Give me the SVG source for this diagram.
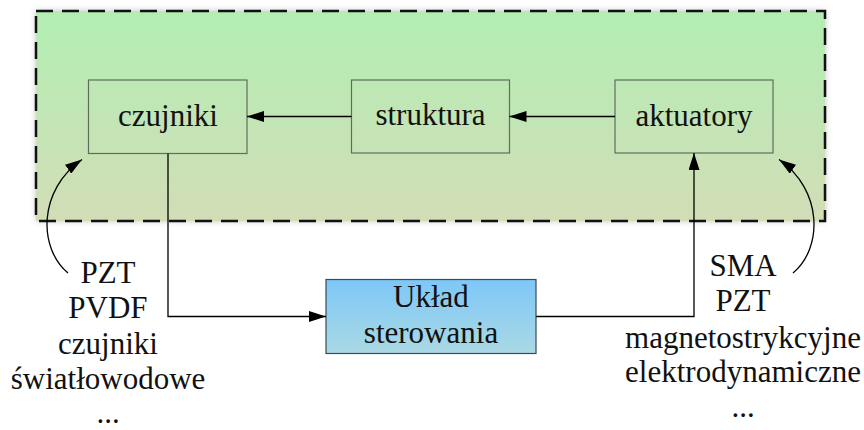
<svg xmlns="http://www.w3.org/2000/svg" width="864" height="430" viewBox="0 0 864 430">
<defs>
<linearGradient id="gGreen" x1="0" y1="0" x2="0" y2="1"><stop offset="0" stop-color="#b2eeb4"/><stop offset="1" stop-color="#d2ddb6"/></linearGradient>
<linearGradient id="gBlue" x1="0" y1="0" x2="0" y2="1"><stop offset="0" stop-color="#7dc7f8"/><stop offset="1" stop-color="#aad9e4"/></linearGradient>
<filter id="shadow" x="-5%" y="-10%" width="110%" height="120%"><feGaussianBlur stdDeviation="3"/></filter>
<marker id="arr" viewBox="0 0 17 11" refX="17" refY="5.5" markerWidth="17" markerHeight="11" markerUnits="userSpaceOnUse" orient="auto"><path d="M0,0 L17,5.5 L0,11 Z" fill="#000"/></marker>
<style>
.t{font-family:"Liberation Serif","DejaVu Serif",serif;font-size:31px;fill:#111;text-anchor:middle}
.box{fill:none;stroke:#5e6e5e;stroke-width:1.2}
.ln{fill:none;stroke:#000;stroke-width:1.3}
</style>
</defs>
<g id="system">
<rect x="36" y="11" width="789" height="210" fill="#999" filter="url(#shadow)" opacity="0.6"/>
<rect x="36" y="11" width="789" height="210" fill="url(#gGreen)"/>
<rect x="36" y="11" width="789" height="210" fill="none" stroke="#111" stroke-width="2.5" stroke-dasharray="17 9"/>
</g>
<g id="czujniki"><rect class="box" x="88.5" y="80" width="158.5" height="73.5"/><text class="t" x="168" y="126">czujniki</text></g>
<g id="struktura"><rect class="box" x="351.5" y="80" width="158" height="73"/><text class="t" x="430.5" y="125">struktura</text></g>
<g id="aktuatory"><rect class="box" x="615" y="80" width="158" height="73"/><text class="t" x="694" y="126">aktuatory</text></g>
<g id="uklad"><rect x="326" y="279.5" width="210" height="74" fill="url(#gBlue)" stroke="#3c4a55" stroke-width="1.2"/><text class="t" x="431" y="306.5">Układ</text><text class="t" x="431" y="342.5">sterowania</text></g>
<g id="sensors-list"><text class="t" x="108" y="283">PZT</text><text class="t" x="108" y="318">PVDF</text><text class="t" x="108" y="354">czujniki</text><text class="t" x="108" y="389">światłowodowe</text><text class="t" x="108" y="423">...</text></g>
<g id="actuators-list"><text class="t" x="743" y="276">SMA</text><text class="t" x="743" y="311">PZT</text><text class="t" x="743" y="348">magnetostrykcyjne</text><text class="t" x="743" y="382">elektrodynamiczne</text><text class="t" x="743" y="417">...</text></g>
<g id="connectors">
<line class="ln" x1="351.5" y1="116.5" x2="247" y2="116.5" marker-end="url(#arr)"/>
<line class="ln" x1="615" y1="116.5" x2="509.5" y2="116.5" marker-end="url(#arr)"/>
<polyline class="ln" points="168,153.5 168,316.5 326,316.5" marker-end="url(#arr)"/>
<polyline class="ln" points="536,316.5 694,316.5 694,153" marker-end="url(#arr)"/>
<path class="ln" d="M68,273 C38,248 38,190 82,159.5" marker-end="url(#arr)"/>
<path class="ln" d="M793,273 C823,248 823,190 779,159.5" marker-end="url(#arr)"/>
</g>
</svg>
